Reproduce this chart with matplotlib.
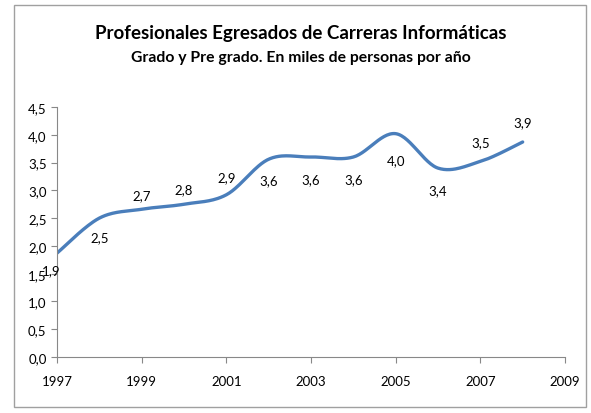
import numpy as np
import matplotlib.pyplot as plt
from matplotlib.patches import Rectangle

# ================ Data ================
years  = [1997, 1998, 1999, 2000, 2001, 2002, 2003, 2004, 2005, 2006, 2007, 2008]
values = [1.87, 2.50, 2.66, 2.75, 2.92, 3.56, 3.60, 3.60, 4.02, 3.40, 3.52, 3.87]
labels = ["1,9", "2,5", "2,7", "2,8", "2,9", "3,6", "3,6", "3,6", "4,0", "3,4", "3,5", "3,9"]

x_ticks = [1997, 1999, 2001, 2003, 2005, 2007, 2009]
y_ticks = [0.0, 0.5, 1.0, 1.5, 2.0, 2.5, 3.0, 3.5, 4.0, 4.5]

# label offsets in points (style only)
_LABEL_OFF = [(-4, -12), (0, -14), (0, 10), (0, 11), (0, 13), (0, -15),
              (0, -16), (0, -16), (0, -19), (0, -16), (0, 14), (0, 14)]

_COLOR_LINE = "#4a7ebb"
_COLOR_AXIS = "#888888"
_FONT = "Lato"


def smooth_curve(x, y, n=30):
    '''Catmull-Rom style Bezier smoothing, as in spreadsheet line charts.'''
    x = np.asarray(x, dtype=float)
    y = np.asarray(y, dtype=float)
    px = np.concatenate([[x[0]], x, [x[-1]]])
    py = np.concatenate([[y[0]], y, [y[-1]]])
    xs, ys = [], []
    t = np.linspace(0, 1, n)
    for i in range(1, len(px) - 2):
        p0 = np.array([px[i], py[i]])
        p3 = np.array([px[i + 1], py[i + 1]])
        c1 = p0 + (np.array([px[i + 1], py[i + 1]]) - np.array([px[i - 1], py[i - 1]])) / 6
        c2 = p3 - (np.array([px[i + 2], py[i + 2]]) - np.array([px[i], py[i]])) / 6
        b = ((1 - t) ** 3)[:, None] * p0 + (3 * (1 - t) ** 2 * t)[:, None] * c1 \
            + (3 * (1 - t) * t ** 2)[:, None] * c2 + (t ** 3)[:, None] * p3
        xs.append(b[:, 0])
        ys.append(b[:, 1])
    return np.concatenate(xs), np.concatenate(ys)


fig = plt.figure(figsize=(5.91, 4.14), dpi=100)
fig.patches.append(Rectangle((14 / 591, 6 / 414), 572 / 591, 402 / 414,
                             transform=fig.transFigure, fill=False,
                             edgecolor="#a0a0a0", linewidth=1.0))

ax = fig.add_axes([57 / 591, 56 / 414, 508 / 591, 250 / 414])

sx, sy = smooth_curve(years, values)
ax.plot(sx, sy, color=_COLOR_LINE, linewidth=2.4, solid_capstyle="round")

for xv, yv, lab, off in zip(years, values, labels, _LABEL_OFF):
    ax.annotate(lab, (xv, yv), xytext=off, textcoords="offset points",
                ha="center", va="center", fontsize=9.5, family=_FONT)

ax.set_xlim(1997, 2009)
ax.set_ylim(0, 4.5)
ax.set_xticks(x_ticks)
ax.set_yticks(y_ticks)
ax.set_yticklabels([f"{v:.1f}".replace(".", ",") for v in y_ticks])
ax.set_xticklabels([str(v) for v in x_ticks])
ax.spines["top"].set_visible(False)
ax.spines["right"].set_visible(False)
for s in ("left", "bottom"):
    ax.spines[s].set_color(_COLOR_AXIS)
ax.tick_params(axis="both", colors=_COLOR_AXIS, length=4, labelcolor="black",
               labelsize=9.5)
ax.tick_params(axis="x", pad=9)
for t in ax.get_xticklabels() + ax.get_yticklabels():
    t.set_family(_FONT)

fig.text(301 / 591, 1 - 33 / 414, "Profesionales Egresados de Carreras Informáticas",
         ha="center", va="center", fontsize=13.5, fontweight="bold", family=_FONT)
fig.text(301 / 591, 1 - 58 / 414, "Grado y Pre grado. En miles de personas por año",
         ha="center", va="center", fontsize=11.3, fontweight="bold", family=_FONT)

fig.savefig("out.png", dpi=100)
